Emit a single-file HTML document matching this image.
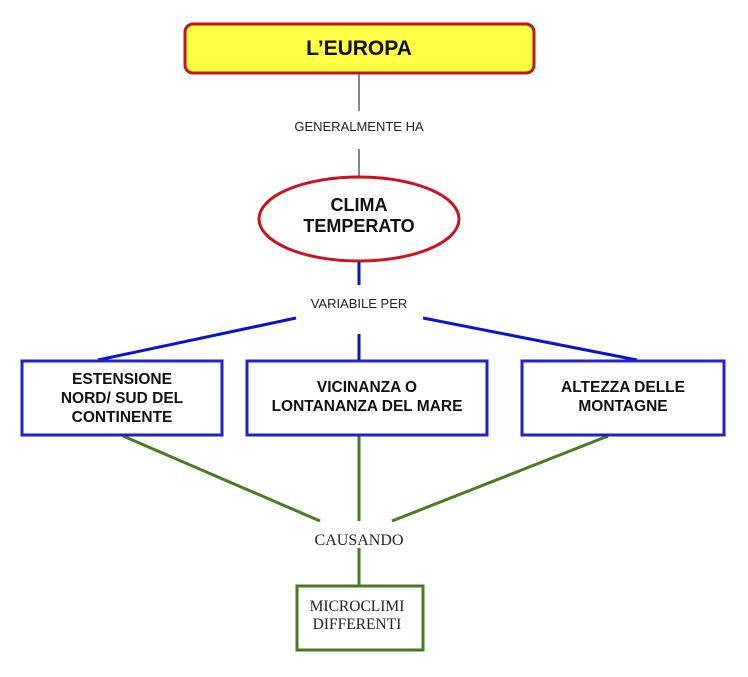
<!DOCTYPE html>
<html><head><meta charset="utf-8"><style>
body{margin:0;background:#fff;}
svg{display:block}
.b{font-family:"Liberation Sans",sans-serif;font-weight:bold;fill:#111}
</style></head><body>
<svg width="748" height="677" viewBox="0 0 748 677">
<rect x="185" y="24" width="349" height="49" rx="8" fill="#ffff44" stroke="#c8141e" stroke-width="3"/>
<text x="359" y="55" text-anchor="middle" class="b" font-size="21">L’EUROPA</text>
<line x1="359" y1="74" x2="359" y2="111" stroke="#444" stroke-width="1.3"/>
<line x1="359" y1="149" x2="359" y2="178" stroke="#444" stroke-width="1.3"/>
<text x="359" y="131" text-anchor="middle" font-family="Liberation Sans,sans-serif" font-size="13" fill="#222">GENERALMENTE HA</text>
<ellipse cx="359" cy="219" rx="100" ry="42" fill="#fff" stroke="#c8141e" stroke-width="3"/>
<text x="359" y="211" text-anchor="middle" class="b" font-size="18">CLIMA</text>
<text x="359" y="232" text-anchor="middle" class="b" font-size="18">TEMPERATO</text>
<g stroke="#0a14c8" stroke-width="3">
<line x1="359" y1="262" x2="359" y2="285"/>
<line x1="359" y1="334" x2="359" y2="360"/>
<line x1="296" y1="318" x2="98" y2="360"/>
<line x1="423" y1="318" x2="637" y2="360"/>
</g>
<text x="359" y="308" text-anchor="middle" font-family="Liberation Sans,sans-serif" font-size="13" fill="#222">VARIABILE PER</text>
<g stroke="#4a7a26" stroke-width="3">
<line x1="123" y1="436" x2="320" y2="521"/>
<line x1="359" y1="436" x2="359" y2="521"/>
<line x1="608" y1="436" x2="392" y2="521"/>
<line x1="359" y1="548" x2="359" y2="586"/>
</g>
<text x="359" y="545" text-anchor="middle" font-family="Liberation Serif,serif" font-size="16" fill="#222">CAUSANDO</text>
<g fill="#fff" stroke="#1f23c8" stroke-width="3">
<rect x="22" y="361" width="200" height="74"/>
<rect x="247" y="361" width="240" height="74"/>
<rect x="522" y="361" width="202" height="74"/>
</g>
<g class="b" font-size="15.5" text-anchor="middle">
<text x="122" y="384">ESTENSIONE</text>
<text x="122" y="403">NORD/ SUD DEL</text>
<text x="122" y="422">CONTINENTE</text>
<text x="367" y="392">VICINANZA O</text>
<text x="367" y="411">LONTANANZA DEL MARE</text>
<text x="623" y="392">ALTEZZA DELLE</text>
<text x="623" y="411">MONTAGNE</text>
</g>
<rect x="297" y="586" width="126" height="64" fill="#fff" stroke="#4a7a26" stroke-width="3"/>
<text x="357" y="611" text-anchor="middle" font-family="Liberation Serif,serif" font-size="15.5" fill="#222">MICROCLIMI</text>
<text x="357" y="629" text-anchor="middle" font-family="Liberation Serif,serif" font-size="15.5" fill="#222">DIFFERENTI</text>
</svg>
</body></html>
